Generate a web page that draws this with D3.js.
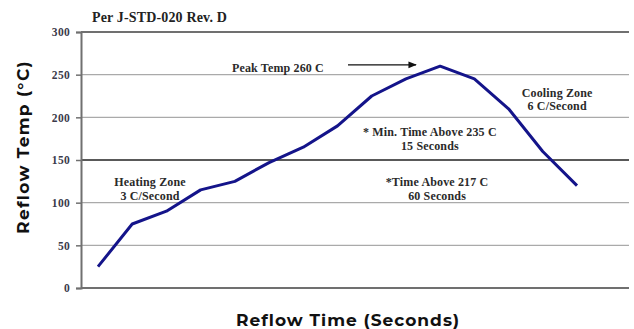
<!DOCTYPE html>
<html><head><meta charset="utf-8">
<script src="https://cdn.jsdelivr.net/npm/d3@7"></script>
<style>body{margin:0;background:#fff}svg{display:block}</style>
</head><body><div id="chart"></div>
<script>
const timeIndex = [0,1,2,3,4,5,6,7,8,9,10,11,12,13,14];
const tempValues = [25,75,90,115,125,147,165,190,225,245,260,245,210,160,120];
const yTicks = [0,50,100,150,200,250,300];
const chartTitle = "Per J-STD-020 Rev. D";
const xTitle = "Reflow Time (Seconds)";
const yTitle = "Reflow Temp (°C)";
const notes = [
  {lines:["Heating Zone","3 C/Second"], x:1.52, y:119.5},
  {lines:["* Min. Time Above 235  C","15 Seconds"], x:9.7, y:178},
  {lines:["*Time Above 217  C","60 Seconds"], x:9.91, y:119.5},
  {lines:["Cooling Zone","6 C/Second"], x:13.42, y:224}
];
const peakLabel = "Peak Temp 260  C";

const W=634,H=329;
const svg=d3.select("#chart").append("svg").attr("width",W).attr("height",H);
const x=d3.scaleLinear().domain([0,14]).range([98,577]);
const y=d3.scaleLinear().domain([0,300]).range([288,32]);
const serif="'Liberation Serif','Times New Roman',serif";

// gridlines
svg.append("g").selectAll("line").data(yTicks).join("line")
  .attr("x1",81).attr("x2",629).attr("y1",d=>y(d)).attr("y2",d=>y(d))
  .attr("stroke",d=>d===150?"#222":(d===300||d===0)?"#707070":"#aaa")
  .attr("stroke-width",d=>(d===300||d===0)?2:1.3);

// y axis
const ya=svg.append("g").attr("transform","translate(81,0)")
  .call(d3.axisLeft(y).tickValues(yTicks).tickSize(5).tickPadding(6));
ya.select(".domain").attr("stroke","#707070").attr("stroke-width",2);
ya.selectAll(".tick line").attr("stroke","#707070").attr("stroke-width",1.5);
ya.selectAll("text").attr("font-family",serif).attr("font-weight","bold")
  .attr("font-size",11.5).attr("letter-spacing",0.3).attr("fill","#3a3a4a");

// line
svg.append("path").datum(tempValues.map((v,i)=>[timeIndex[i],v]))
  .attr("d",d3.line().x(d=>x(d[0])).y(d=>y(d[1])))
  .attr("fill","none").attr("stroke","#14148a").attr("stroke-width",3)
  .attr("stroke-linejoin","round");

// title
svg.append("text").attr("x",92).attr("y",22).text(chartTitle)
  .attr("font-family",serif).attr("font-weight","bold").attr("font-size",14)
  .attr("letter-spacing",0.15).attr("fill","#222");

// notes
notes.forEach(n=>{
  const t=svg.append("text").attr("text-anchor","middle")
    .attr("font-family",serif).attr("font-weight","bold").attr("font-size",12)
    .attr("letter-spacing",0.15).attr("fill","#2a2a2a");
  n.lines.forEach((l,i)=>t.append("tspan").attr("x",x(n.x)).attr("y",y(n.y)+i*13.5).text(l));
});

// peak label + arrow
svg.append("defs").append("marker").attr("id","ah").attr("viewBox","0 0 10 10")
  .attr("refX",9).attr("refY",5).attr("markerWidth",7).attr("markerHeight",7).attr("orient","auto")
  .append("path").attr("d","M0,1L10,5L0,9Z").attr("fill","#111");
svg.append("text").attr("x",232).attr("y",y(253)).text(peakLabel)
  .attr("font-family",serif).attr("font-weight","bold").attr("font-size",12)
  .attr("letter-spacing",0.15).attr("fill","#2a2a2a");
svg.append("line").attr("x1",348).attr("x2",416).attr("y1",y(261.5)).attr("y2",y(261.5))
  .attr("stroke","#111").attr("stroke-width",1.2).attr("marker-end","url(#ah)");

// axis titles
const sans="Montserrat,'Open Sans',sans-serif";
svg.append("text").attr("x",348).attr("y",326).attr("text-anchor","middle").text(xTitle)
  .attr("font-family",sans).attr("font-weight","bold").attr("font-size",17)
  .attr("letter-spacing",1).attr("fill","#111");
svg.append("text").attr("transform","translate(29,147) rotate(-90)").attr("text-anchor","middle").text(yTitle)
  .attr("font-family",sans).attr("font-weight","bold").attr("font-size",17)
  .attr("letter-spacing",1.3).attr("fill","#111");
</script></body></html>
